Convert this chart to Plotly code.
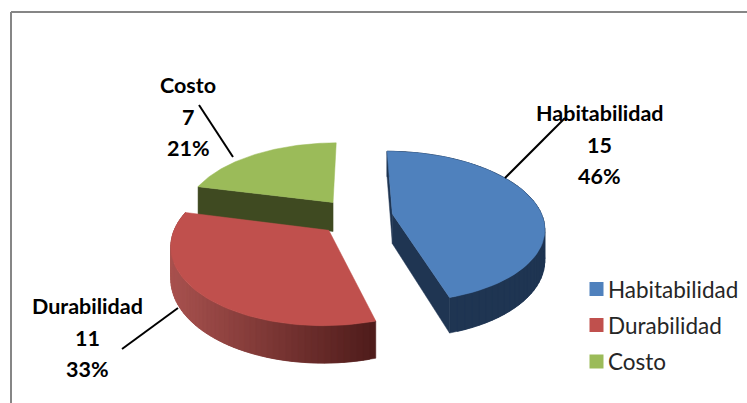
import math
import plotly.graph_objects as go

# Survey results
categories = ["Habitabilidad", "Durabilidad", "Costo"]
counts = [15, 11, 7]
percent_labels = ["46%", "33%", "21%"]

top_colors = ["#4f81bd", "#c0504d", "#9bbb59"]
cut_colors = ["#1f3552", None, "#3f4a21"]
rim_left = ["#1f3552", "#a9524f", None]
rim_right = ["#1f3552", "#4f1c1b", None]

# Projection of the tilted disc onto the page
CX, CY = 355.5, 216.5
SCALE_X, SCALE_Y = 150, 74
PERSPECTIVE = 0.169
THICKNESS = 30
EXPLODE = 0.25


def project(x, y, drop=False):
    w = 1 - PERSPECTIVE * y
    px = CX + SCALE_X * x / w
    py = CY + SCALE_Y * y / w
    if drop:
        py += THICKNESS / w
    return px, py


def mix(a, b, t):
    ca = [int(a[i:i + 2], 16) for i in (1, 3, 5)]
    cb = [int(b[i:i + 2], 16) for i in (1, 3, 5)]
    return "rgb(%d,%d,%d)" % tuple(round(p + (q - p) * t) for p, q in zip(ca, cb))


def polar(angle, radius, ox, oy):
    rad = math.radians(angle)
    return ox + radius * math.sin(rad), oy - radius * math.cos(rad)


def polygon(fig, points, color):
    fig.add_trace(go.Scatter(
        x=[p[0] for p in points] + [points[0][0]],
        y=[p[1] for p in points] + [points[0][1]],
        mode="lines", fill="toself", fillcolor=color,
        line=dict(color=color, width=0.5),
        hoverinfo="skip", showlegend=False,
    ))


fig = go.Figure()

# Wedge angles, clockwise from twelve o'clock
wedges = []
start = 0.0
for count in counts:
    sweep = 360 * count / sum(counts)
    wedges.append((start, start + sweep))
    start += sweep

# Back to front: green, blue, red
for idx in (2, 0, 1):
    a0, a1 = wedges[idx]
    ox, oy = polar((a0 + a1) / 2, EXPLODE, 0, 0)
    steps = 60
    arc = [polar(a0 + (a1 - a0) * i / steps, 1, ox, oy) for i in range(steps + 1)]

    if idx == 2:
        # Cut face looking at the viewer
        polygon(fig, [project(ox, oy), project(*arc[0]),
                      project(*arc[0], drop=True), project(ox, oy, drop=True)],
                cut_colors[idx])
    if idx == 0:
        # Cut faces on the left of the wedge
        polygon(fig, [project(ox, oy), project(*arc[0]),
                      project(*arc[0], drop=True), project(ox, oy, drop=True)],
                cut_colors[idx])
        polygon(fig, [project(ox, oy), project(*arc[-1]),
                      project(*arc[-1], drop=True), project(ox, oy, drop=True)],
                cut_colors[idx])

    if rim_left[idx]:
        # Outer wall painted from the far end forward; each strip reaches
        # under the next one so no gaps show between them
        span = arc[::-1] if idx == 0 else arc
        px = [project(*p)[0] for p in arc]
        lo, hi = min(px), max(px)
        for i in range(steps):
            first, last = span[i], span[min(i + 2, steps)]
            shade = (project(*first)[0] - lo) / (hi - lo)
            polygon(fig, [project(*first), project(*last),
                          project(*last, drop=True), project(*first, drop=True)],
                    mix(rim_left[idx], rim_right[idx], shade))

    polygon(fig, [project(ox, oy)] + [project(*p) for p in arc], top_colors[idx])

# Data labels: name, count and share stacked over three lines
label_x = [599.5, 87.5, 188]
label_y = [113, 306, 85]
LINE_GAP = 31.5
for name, count, share, x, y in zip(categories, counts, percent_labels, label_x, label_y):
    for row, text in enumerate([name, str(count), share]):
        fig.add_annotation(
            x=x, y=y + row * LINE_GAP, text=text, showarrow=False,
            xanchor="center", yanchor="middle",
            font=dict(family="Lato", size=21.5, color="#000000", weight="bold"),
        )

# Leader lines from the labels to their wedges
leaders = [((505, 178), (565, 118)), ((178, 308), (122, 349)), ((233, 157), (199, 105))]
for (x0, y0), (x1, y1) in leaders:
    fig.add_shape(type="line", x0=x0, y0=y0, x1=x1, y1=y1,
                  line=dict(color="#000000", width=2))

# Legend swatches and names
legend_y = [289, 325, 361.5]
for name, color, y in zip(categories, top_colors, legend_y):
    fig.add_trace(go.Scatter(
        x=[596.5], y=[y], mode="markers", name=name, showlegend=False,
        marker=dict(symbol="square", size=14, color=color),
    ))
    fig.add_annotation(
        x=605.5, y=y, text=name, showarrow=False, xanchor="left", yanchor="middle",
        font=dict(family="Lato", size=22.5, color="#262626"),
    )

# Chart frame: top and left edges only
fig.add_shape(type="line", x0=11, y0=12, x1=747, y1=12, line=dict(color="#868686", width=2))
fig.add_shape(type="line", x0=11, y0=12, x1=11, y1=403, line=dict(color="#868686", width=2))

fig.update_layout(
    width=747, height=403, margin=dict(l=0, r=0, t=0, b=0),
    paper_bgcolor="#ffffff", plot_bgcolor="#ffffff", showlegend=False,
    xaxis=dict(range=[0, 747], visible=False, fixedrange=True),
    yaxis=dict(range=[403, 0], visible=False, fixedrange=True),
)

fig.write_html("out.html")
